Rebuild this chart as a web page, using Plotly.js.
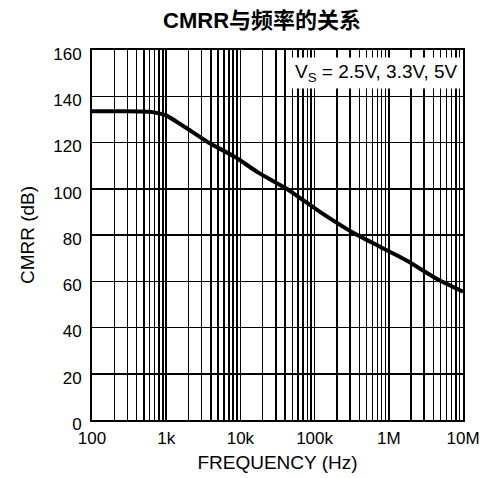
<!DOCTYPE html>
<html><head><meta charset="utf-8">
<script src="https://cdn.plot.ly/plotly-3.0.1.min.js"></script>
<style>body{margin:0;background:#fff}#c{width:480px;height:478px}</style>
</head><body><div id="c"></div>
<script>
const freqHz = [100, 300, 600, 800, 1000, 1800, 3700, 8500, 17000, 42000, 118000, 350000, 1740000, 4400000, 10000000];
const cmrrDb = [133.5, 133.5, 133.3, 132.6, 131.7, 126.6, 120, 113.7, 107.2, 100, 90, 80.5, 69, 61.1, 55.5];
const xTickVals = [100, 1000, 10000, 100000, 1000000, 10000000];
const xTickText = ['100', '1k', '10k', '100k', '1M', '10M'];
const yTickVals = [0, 20, 40, 60, 80, 100, 120, 140, 160];

const fontFam = 'Liberation Sans, Arial, Noto Sans CJK SC, sans-serif';
const data = [{
  x: freqHz, y: cmrrDb, type: 'scatter', mode: 'lines',
  line: {color: '#000', width: 4, shape: 'spline', smoothing: 0.4},
  hoverinfo: 'skip'
}];
const layout = {
  width: 480, height: 478,
  margin: {l: 92, r: 17, t: 50, b: 58},
  paper_bgcolor: '#fff', plot_bgcolor: '#fff',
  showlegend: false,
  font: {family: fontFam, color: '#000', size: 17},
  title: {text: '<b>CMRR与频率的关系</b>', x: 0.546, xanchor: 'center', y: 0.958, yanchor: 'middle',
          font: {family: 'Liberation Sans, Noto Sans CJK SC, sans-serif', size: 22, color: '#000'}},
  xaxis: {
    type: 'log', range: [2, 7], tickvals: xTickVals, ticktext: xTickText,
    showgrid: true, gridcolor: '#000', gridwidth: 1.5,
    minor: {dtick: 'D1', showgrid: true, gridcolor: '#000', gridwidth: 1.5, ticks: ''},
    showline: true, linecolor: '#000', linewidth: 2, mirror: true,
    ticks: '', ticklen: 0, zeroline: false, ticklabelstandoff: 2,
    tickfont: {size: 17},
    title: {text: 'FREQUENCY (Hz)', font: {size: 19}, standoff: 8}
  },
  yaxis: {
    range: [0, 160], tickvals: yTickVals,
    showgrid: true, gridcolor: '#000', gridwidth: 1.5,
    showline: true, linecolor: '#000', linewidth: 2, mirror: true,
    ticks: '', zeroline: false, ticklabelshift: 4, ticklabelstandoff: 5,
    tickfont: {size: 17},
    title: {text: 'CMRR (dB)', font: {size: 19}, standoff: 14}
  },
  annotations: [{
    xref: 'paper', yref: 'paper', x: 0.997, y: 0.982, xanchor: 'right', yanchor: 'top',
    text: 'V<sub>S</sub> = 2.5V, 3.3V, 5V', showarrow: false,
    bgcolor: '#fff', borderpad: 3, font: {size: 19, color: '#000'}
  }]
};
Plotly.newPlot('c', data, layout, {staticPlot: true});
</script></body></html>
